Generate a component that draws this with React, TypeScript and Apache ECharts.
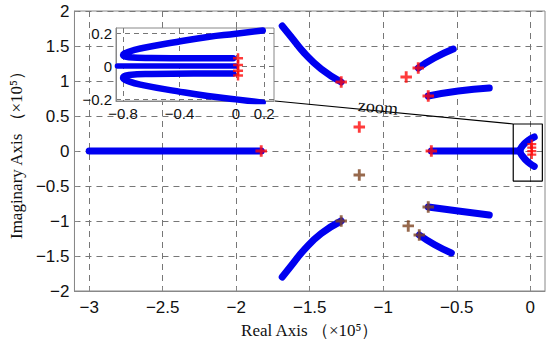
import React, { useEffect, useRef } from "react";
import * as echarts from "echarts";

// ---- data (units ×10^5) ----
const xTicks = [-3, -2.5, -2, -1.5, -1, -0.5, 0];
const yTicks = [-2, -1.5, -1, -0.5, 0, 0.5, 1, 1.5, 2];
const insetXTicks = [-0.8, -0.4, 0, 0.2];
const insetYTicks = [-0.2, 0, 0.2];

const realAxisLocus = [[-3, 0], [-1.83, 0]];
const upperArc = [[-1.687, 1.786], [-1.626, 1.629], [-1.537, 1.4], [-1.422, 1.171], [-1.286, 0.986]];
const lowerArc = [[-1.687, -1.8], [-1.626, -1.64], [-1.537, -1.41], [-1.422, -1.18], [-1.286, -1.0]];
const upperMidArc = [[-0.762, 1.186], [-0.653, 1.329], [-0.524, 1.457]];
const lowerMidArc = [[-0.755, -1.2], [-0.65, -1.34], [-0.537, -1.457]];
const upperBranch = [[-0.694, 0.786], [-0.49, 0.857], [-0.279, 0.9]];
const lowerBranch = [[-0.694, -0.8], [-0.49, -0.857], [-0.279, -0.914]];
const originLine = [[-0.673, 0], [-0.07, 0]];
const originLoop = [[0.027, 0.2], [-0.015, 0.15], [-0.05, 0.08], [-0.07, 0], [-0.05, -0.08], [-0.015, -0.16], [0.027, -0.22]];

const redPoles = [[-1.83, 0], [-1.286, 0.986], [-0.844, 1.057], [-0.762, 1.186], [-0.694, 0.786], [-1.163, 0.343], [-0.673, 0]];
const brownPoles = [[-1.286, -1.0], [-0.83, -1.07], [-0.755, -1.2], [-0.694, -0.8], [-1.163, -0.343]];
const originPoles = [[0.01, 0.1], [0.01, 0.05], [0.01, 0.0], [0.01, -0.05]];

const zoomBox = [[-0.116, 0.386], [0.082, 0.386], [0.082, -0.43], [-0.116, -0.43], [-0.116, 0.386]];
const zoomConnector = [[-1.737, 0.714], [-0.116, 0.386]];

// inset (zoomed view near origin)
const insetUpper = [[0.19, 0.22], [0, 0.2], [-0.2, 0.18], [-0.42, 0.15], [-0.66, 0.113], [-0.76, 0.09], [-0.8, 0.07], [-0.76, 0.057], [-0.6, 0.052], [-0.3, 0.05], [-0.02, 0.05]];
const insetLower = [[0.19, -0.22], [0, -0.2], [-0.2, -0.18], [-0.42, -0.15], [-0.66, -0.113], [-0.76, -0.09], [-0.8, -0.07], [-0.76, -0.052], [-0.6, -0.045], [-0.3, -0.042], [-0.02, -0.042]];
const insetMiddle = [[-0.84, 0.003], [0, 0.003]];
const insetPoles = [[0.015, 0.05], [0.015, 0.01], [0.015, -0.025], [0.015, -0.055]];

const BLUE = "#0000f0";
const PLUS = "path://M4.5,0h3v4.5h4.5v3h-4.5v4.5h-3v-4.5h-4.5v-3h4.5z";
const fmt = (v: number) => String(v).replace("-", "\u2212");

export default function App() {
  const ref = useRef<HTMLDivElement>(null);
  useEffect(() => {
    const chart = echarts.init(ref.current!, undefined, { renderer: "svg" });
    const locus = (data: number[][], xi: number, w: number, z: number) => ({
      type: "line",
      xAxisIndex: xi,
      yAxisIndex: xi,
      data,
      smooth: true,
      showSymbol: false,
      z,
      lineStyle: { color: BLUE, width: w, cap: "round", join: "round" },
      silent: true,
    });
    const poles = (data: number[][], xi: number, color: string, size: number, z: number) => ({
      type: "scatter",
      xAxisIndex: xi,
      yAxisIndex: xi,
      data,
      symbol: PLUS,
      symbolSize: size,
      z,
      itemStyle: { color },
    });
    const tickFont = { fontFamily: "Liberation Sans, Arial, sans-serif", color: "#111" };
    chart.setOption({
      animation: false,
      backgroundColor: "#fff",
      grid: [
        { left: 73, top: 11, right: 5, bottom: 58, show: true, borderColor: "#888", borderWidth: 1, z: 0 },
        { left: 116, top: 28, width: 158, height: 73, show: true, backgroundColor: "#fff", borderColor: "#888", borderWidth: 1, z: 3 },
      ],
      xAxis: [
        {
          type: "value", gridIndex: 0, min: -3.1, max: 0.1,
          axisLine: { show: true, onZero: false, lineStyle: { color: "#888" } },
          axisTick: { show: true, inside: true, length: 4, customValues: xTicks, lineStyle: { color: "#888" } },
          axisLabel: { customValues: xTicks, formatter: fmt, fontSize: 17, margin: 8, ...tickFont },
          splitLine: { show: true, lineStyle: { color: "#777", type: [6, 5], width: 1 } },
          name: "Real Axis （×10⁵）", nameLocation: "middle", nameGap: 31,
          nameTextStyle: { fontFamily: "Liberation Serif, Times New Roman, serif", fontSize: 17, color: "#111" },
        },
        {
          type: "value", gridIndex: 1, min: -0.85, max: 0.27, z: 4,
          axisLine: { show: true, onZero: false, lineStyle: { color: "#888" } },
          axisTick: { show: false, customValues: insetXTicks },
          axisLabel: { customValues: insetXTicks, formatter: fmt, fontSize: 15, margin: 5, ...tickFont },
          splitLine: { show: true, lineStyle: { color: "#777", type: [5, 4], width: 1 } },
        },
      ],
      yAxis: [
        {
          type: "value", gridIndex: 0, min: -2, max: 2, interval: 0.5,
          axisLine: { show: true, onZero: false, lineStyle: { color: "#888" } },
          axisTick: { show: true, inside: true, length: 4, lineStyle: { color: "#888" } },
          axisLabel: { formatter: fmt, fontSize: 17, margin: 5, ...tickFont },
          splitLine: { show: true, lineStyle: { color: "#777", type: [6, 5], width: 1 } },
          name: "Imaginary Axis （×10⁵）", nameLocation: "middle", nameGap: 48,
          nameTextStyle: { fontFamily: "Liberation Serif, Times New Roman, serif", fontSize: 17, color: "#111" },
        },
        {
          type: "value", gridIndex: 1, min: -0.21, max: 0.235, z: 4,
          axisLine: { show: true, onZero: false, lineStyle: { color: "#888" } },
          axisTick: { show: false, customValues: insetYTicks },
          axisLabel: { customValues: insetYTicks, formatter: fmt, fontSize: 15, margin: 4, ...tickFont },
          splitLine: { show: true, lineStyle: { color: "#777", type: [5, 4], width: 1 } },
        },
      ],
      series: [
        locus(realAxisLocus, 0, 7, 2),
        locus(upperArc, 0, 7, 2),
        locus(lowerArc, 0, 7, 2),
        locus(upperMidArc, 0, 7, 2),
        locus(lowerMidArc, 0, 7, 2),
        locus(upperBranch, 0, 7, 2),
        locus(lowerBranch, 0, 7, 2),
        locus(originLine, 0, 7, 2),
        locus(originLoop, 0, 7, 2),
        poles(redPoles, 0, "#ff0a0a", 11.5, 3),
        poles(brownPoles, 0, "#7d4420", 11.5, 3),
        poles(originPoles, 0, "#ff0a0a", 9, 3),
        {
          type: "line", xAxisIndex: 0, yAxisIndex: 0, data: zoomBox, showSymbol: false, z: 4, silent: true,
          lineStyle: { color: "#000", width: 1.2 },
        },
        {
          type: "line", xAxisIndex: 0, yAxisIndex: 0, data: zoomConnector, showSymbol: false, z: 4, silent: true,
          lineStyle: { color: "#000", width: 1.2 },
        },
        locus(insetUpper, 1, 6.5, 5),
        locus(insetLower, 1, 6.5, 5),
        locus(insetMiddle, 1, 5.5, 5),
        poles(insetPoles, 1, "#ff0a0a", 10, 6),
      ],
      graphic: [
        {
          type: "text", x: 378, y: 107, rotation: -0.095, z: 10,
          style: {
            text: "zoom", fill: "#111", font: '18px "Liberation Serif", "Times New Roman", serif',
            textAlign: "center", textVerticalAlign: "middle",
          },
        },
      ],
    });
    return () => chart.dispose();
  }, []);
  return <div ref={ref} style={{ position: "absolute", left: 0, top: 0, width: 550, height: 349 }} />;
}
